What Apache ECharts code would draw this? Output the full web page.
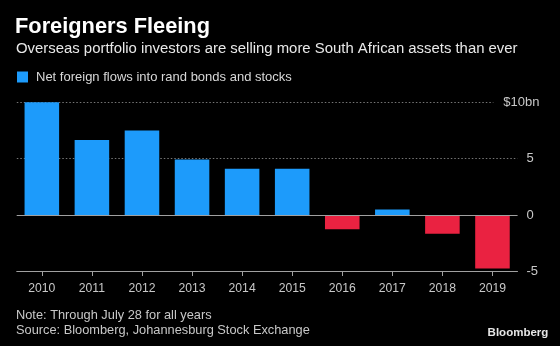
<!DOCTYPE html>
<html>
<head>
<meta charset="utf-8">
<script src="https://cdn.jsdelivr.net/npm/echarts@6/dist/echarts.min.js"></script>
<style>
html,body{margin:0;padding:0;background:#000;}
#chart{width:560px;height:346px;}
</style>
</head>
<body>
<div id="chart"></div>
<script>
var categories = ['2010','2011','2012','2013','2014','2015','2016','2017','2018','2019'];
var flows = [10.45, 6.65, 7.5, 4.92, 4.1, 4.1, -1.26, 0.5, -1.65, -4.73];
var yTicks = [-5, 0, 5, 10];
var topTickLabel = '$10bn';

var BLUE = '#1d9bfb';
var RED = '#ea2241';
var FONT = '"Liberation Sans", Arial, sans-serif';
var AXIS_GRAY = '#a0a0a0';
var LABEL_GRAY = '#c8c8c8';

var chart = echarts.init(document.getElementById('chart'), null, {renderer: 'canvas'});
chart.setOption({
  backgroundColor: '#000',
  animation: false,
  title: [
    {text: 'Foreigners Fleeing', left: 15, top: 15.5, padding: 0,
     textStyle: {color: '#fff', fontSize: 21.8, fontWeight: 'bold', fontFamily: FONT, lineHeight: 22}},
    {text: 'Overseas portfolio investors are selling more South African assets than ever', left: 16, top: 41, padding: 0,
     textStyle: {color: '#e8e8e8', fontSize: 14.9, fontWeight: 'normal', fontFamily: FONT, lineHeight: 15}},
    {text: 'Note: Through July 28 for all years\nSource: Bloomberg, Johannesburg Stock Exchange', left: 16, top: 307.5, padding: 0,
     textStyle: {color: '#c8c8c8', fontSize: 12.8, fontWeight: 'normal', fontFamily: FONT, lineHeight: 15}},
    {text: 'Bloomberg', right: 11.7, top: 327, padding: 0,
     textStyle: {color: '#e6e6e6', fontSize: 11.5, fontWeight: 'bold', fontFamily: FONT, lineHeight: 12}}
  ],
  legend: {
    left: 17, top: 70.5, padding: 0,
    itemWidth: 11, itemHeight: 11, itemGap: 8,
    icon: 'rect',
    data: ['Net foreign flows into rand bonds and stocks'],
    textStyle: {color: '#d8d8d8', fontSize: 13, fontFamily: FONT, padding: [0, 0, 0, 3]}
  },
  grid: {left: 16.8, right: 42.5, top: 102.3, bottom: 346 - 271.5, containLabel: false},
  xAxis: {
    type: 'category',
    data: categories,
    axisLine: {onZero: false, lineStyle: {color: AXIS_GRAY, width: 1}},
    axisTick: {show: true, alignWithLabel: true, length: 4.5, lineStyle: {color: AXIS_GRAY}},
    axisLabel: {color: LABEL_GRAY, fontSize: 12.2, fontFamily: FONT, margin: 11}
  },
  yAxis: [{
    type: 'value',
    position: 'right',
    min: -5, max: 10, interval: 5,
    axisLine: {show: false},
    axisTick: {show: false},
    splitLine: {show: true, lineStyle: {color: '#767676', type: [1.5, 2], width: 1}},
    axisLabel: {
      color: LABEL_GRAY, fontSize: 13, fontFamily: FONT, margin: 9, align: 'left',
      formatter: function (v) { return v === yTicks[3] ? '' : String(v); }
    }
  }, {
    type: 'value',
    position: 'right',
    min: -5, max: 10, interval: 5,
    axisLine: {show: false},
    axisTick: {show: false},
    splitLine: {show: false},
    axisLabel: {
      color: LABEL_GRAY, fontSize: 13, fontFamily: FONT, margin: 22, align: 'right',
      formatter: function (v) { return v === yTicks[3] ? '{m|' + topTickLabel + '}' : ''; },
      rich: {
        m: {color: LABEL_GRAY, fontSize: 13, fontFamily: FONT, backgroundColor: '#000', padding: [2, 0, 2, 10]}
      }
    }
  }],
  series: [{
    name: 'Net foreign flows into rand bonds and stocks',
    type: 'bar',
    color: BLUE,
    barCategoryGap: '31%',
    data: flows.map(function (v) { return {value: v, itemStyle: {color: v < 0 ? RED : BLUE}}; }),
    markLine: {
      silent: true, symbol: 'none', label: {show: false},
      lineStyle: {color: AXIS_GRAY, type: 'solid', width: 1},
      data: [{yAxis: 0}]
    },
    z: 2
  }]
});
</script>
</body>
</html>
